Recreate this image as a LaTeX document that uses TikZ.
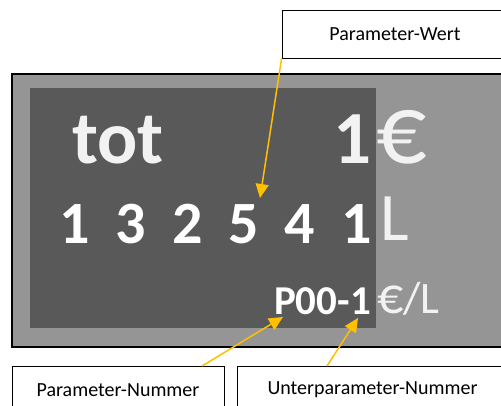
\documentclass[tikz,border=0pt]{standalone}
\usepackage{fontspec}
\setmainfont{Carlito}
\usetikzlibrary{arrows.meta,calc}
\definecolor{outergray}{HTML}{959595}
\definecolor{innergray}{HTML}{595959}
\definecolor{lighttext}{HTML}{F2F2F2}
\definecolor{arroworange}{HTML}{FFC000}
\tikzset{
  labelbox/.style={draw=black, line width=0.8pt, fill=white, minimum height=48pt, inner sep=0pt, font=\fontsize{20}{24}\selectfont, text=black},
  bigbold/.style={font=\fontsize{75}{80}\selectfont\bfseries, text=lighttext, inner sep=0pt, anchor=base},
  rowdigit/.style={font=\fontsize{60}{66}\selectfont\bfseries, text=white, inner sep=0pt, anchor=base},
  unit/.style={inner sep=0pt, anchor=base west, text=lighttext},
  pointer/.style={draw=arroworange, line width=1.5pt, -{Triangle[length=14pt,width=13pt]}}
}
\begin{document}
\begin{tikzpicture}[x=1pt,y=-1pt]
\useasboundingbox (0,0) rectangle (501,405);
\clip (0,0) rectangle (501,405);
% display body
\draw[fill=outergray, draw=black, line width=2pt] (12,74) rectangle (520,347);
\fill[innergray] (30,88) rectangle (376,328);
% texts
\node[bigbold] (tot) at (118,163) {tot};
\node[bigbold] (one) at (353,163) {1};
\node[unit, font=\fontsize{100}{104}\selectfont] (euro) at (376,163) {€};
\node[rowdigit] (d1) at (75,243) {1};
\node[rowdigit] (d2) at (131,243) {3};
\node[rowdigit] (d3) at (188,243) {2};
\node[rowdigit] (d4) at (244,243) {5};
\node[rowdigit] (d5) at (300,243) {4};
\node[rowdigit] (d6) at (357,243) {1};
\node[unit, font=\fontsize{68}{72}\selectfont] (liter) at (380,240) {L};
\node[inner sep=0pt, anchor=base east, font=\fontsize{41}{44}\selectfont\bfseries, text=white] (pnum) at (371,314) {P00-1};
\node[unit, font=\fontsize{45}{48}\selectfont] (eurol) at (377,313) {{\fontsize{52}{56}\selectfont €}/L};
% label boxes
\node[labelbox, minimum width=226pt] (pw) at (395,34) {Parameter-Wert};
\node[labelbox, minimum width=212pt] (pn) at (118,390) {Parameter-Nummer};
\node[labelbox, minimum width=271pt] (upn) at (372.5,390) {Unterparameter-Nummer};
% pointer targets
\coordinate (tipw) at (260,198);
\coordinate (tipn) at (283,317);
\coordinate (tipu) at (358,318);
\coordinate (srcn) at (202,366);
\coordinate (srcu) at (327,366);
\draw[pointer] (pw.south west) -- (tipw);
\draw[pointer] (srcn) -- (tipn);
\draw[pointer] (srcu) -- (tipu);
\end{tikzpicture}
\end{document}
